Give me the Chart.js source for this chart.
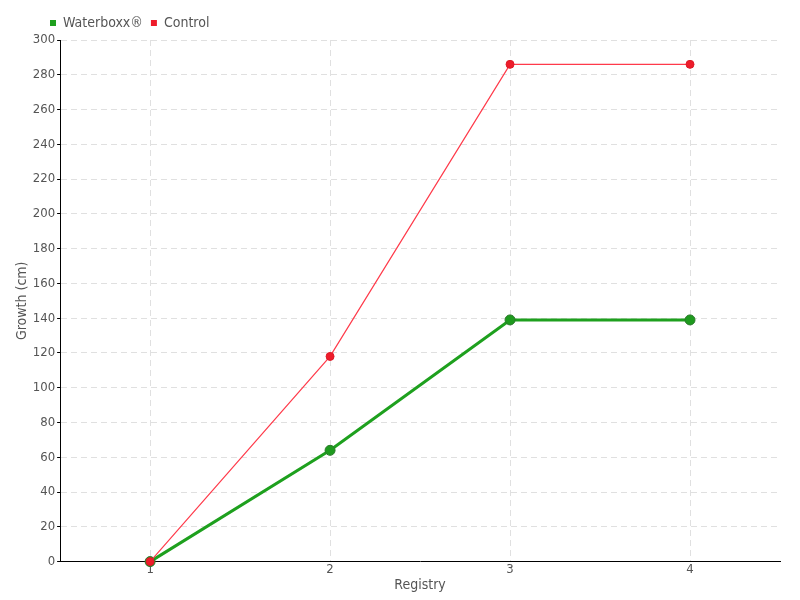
<!DOCTYPE html>
<html>
<head>
<meta charset="utf-8">
<script src="https://cdn.jsdelivr.net/npm/chart.js@4/dist/chart.umd.min.js"></script>
<style>
  html, body { margin: 0; padding: 0; background: #fff; }
  #wrap { width: 800px; height: 600px; }
</style>
</head>
<body>
<div id="wrap"><canvas id="growthChart"></canvas></div>
<script>
// data
const registries = ["1", "2", "3", "4"];
const waterboxx = [0, 64, 139, 139];
const control = [0, 118, 286, 286];

Chart.defaults.font.family = "'DejaVu Sans Condensed', 'Liberation Sans Narrow', sans-serif";
Chart.defaults.font.size = 13;
Chart.defaults.color = "#555";

// push the legend right so it sits over the y axis like the original
const legendShift = {
    id: "legendShift",
    afterLayout(chart) {
        chart.legend.left += 28;
    }
};

let ctx = document.getElementById("growthChart").getContext("2d");
new Chart(ctx, {
    type: "line",
    data: {
        labels: registries,
        datasets: [{
            label: "Waterboxx®",
            data: waterboxx,
            borderColor: "#1ea01e",
            backgroundColor: "#1ea01e",
            borderWidth: 3,
            pointRadius: 5,
            pointBackgroundColor: "#1e9a1e",
            pointBorderColor: "#2a7a2a",
            pointBorderWidth: 1,
            tension: 0,
            clip: false,
            order: 1
        }, {
            label: "Control",
            data: control,
            borderColor: "#ff3a4a",
            backgroundColor: "#ee1c2a",
            borderWidth: 1.2,
            pointRadius: 4,
            pointBackgroundColor: "#ee1c2a",
            pointBorderColor: "#dd1a28",
            pointBorderWidth: 1,
            tension: 0,
            clip: false,
            order: 0
        }]
    },
    options: {
        responsive: true,
        maintainAspectRatio: false,
        animation: false,
        layout: { padding: { left: 14, right: 20, top: 8, bottom: 6 } },
        plugins: {
            legend: {
                align: "start",
                labels: {
                    boxWidth: 6,
                    boxHeight: 6,
                    padding: 8,
                    font: { size: 14 },
                    generateLabels: function (chart) {
                        return chart.data.datasets.map((ds, i) => ({
                            text: ds.label,
                            fillStyle: i === 0 ? "#1ea01e" : "#ee1c2a",
                            strokeStyle: i === 0 ? "#1ea01e" : "#ee1c2a",
                            fontColor: "#555",
                            lineWidth: 0,
                            datasetIndex: i
                        }));
                    }
                }
            },
            tooltip: { enabled: false }
        },
        scales: {
            x: {
                offset: true,
                grid: {
                    color: "#e0e0e0",
                    drawTicks: false
                },
                border: { color: "#000", width: 1, dash: [6, 4] },
                title: { display: true, text: "Registry", padding: { top: 0, bottom: 0 }, font: { size: 14 } },
                ticks: { padding: 0 }
            },
            y: {
                min: 0,
                max: 300,
                ticks: { stepSize: 20, padding: 2 },
                grid: {
                    color: "#e0e0e0",
                    tickColor: "#000",
                    tickLength: 3
                },
                border: { color: "#000", width: 1, dash: [6, 4] },
                title: { display: true, text: "Growth (cm)", padding: { top: 0, bottom: 0 }, font: { size: 14 } }
            }
        }
    },
    plugins: [legendShift]
});
</script>
</body>
</html>
